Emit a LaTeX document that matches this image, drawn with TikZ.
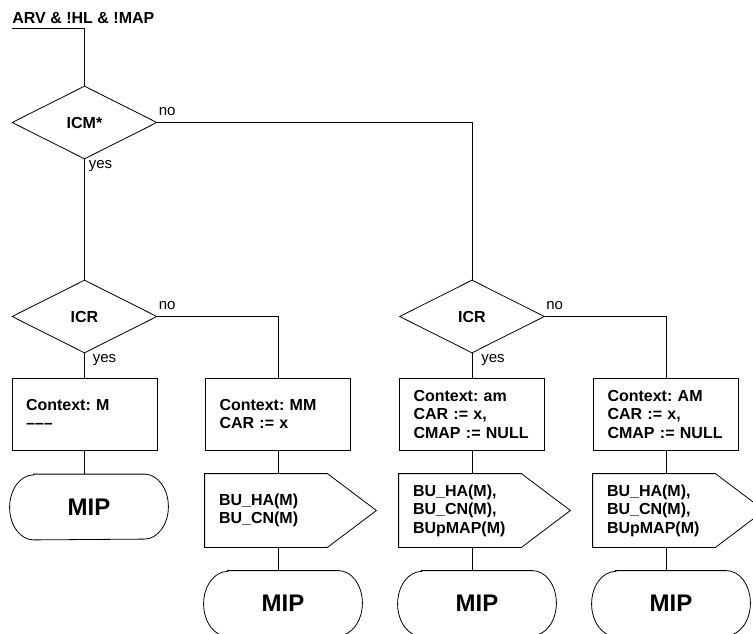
\documentclass[tikz,border=0pt]{standalone}
\usepackage{fontspec}
\setmainfont{Liberation Sans}
\usetikzlibrary{shapes.geometric}
\frenchspacing
\newcommand\drawterm[1]{\draw ([xshift=24pt]#1.north west) -- ([xshift=-24pt]#1.north east) arc[start angle=90,end angle=-90,x radius=24pt,y radius=32.5pt] -- ([xshift=24pt]#1.south west) arc[start angle=270,end angle=90,x radius=24pt,y radius=32.5pt] -- cycle;}
\newcommand\drawsignal[1]{\draw (#1.north west) -- (#1.north east) -- ([xshift=49pt]#1.east) -- (#1.south east) -- (#1.south west) -- cycle;}
\begin{document}
\begin{tikzpicture}[x=1pt,y=-1pt,
  line width=0.8pt,
  every node/.style={font=\fontsize{16}{18.5}\selectfont\bfseries},
  decision/.style={draw, diamond, minimum width=145pt, minimum height=73pt, inner sep=0pt},
  ctxbox/.style={draw, rectangle, minimum height=72pt, text width=117pt, inner xsep=14pt, inner ysep=0pt, align=left},
  outbox/.style={rectangle, minimum height=73pt, text width=94pt, inner xsep=14pt, inner ysep=0pt, align=left},
  termbox/.style={rectangle, minimum width=158pt, minimum height=65pt, inner sep=0pt, font=\fontsize{24}{28}\selectfont\bfseries},
  lbl/.style={font=\fontsize{15}{18}\selectfont, inner sep=0pt, anchor=base west},
]
\useasboundingbox (0,0) rectangle (753,634);
\clip (0,0) rectangle (753,634);

% title
\node[anchor=base west, inner sep=0pt] (title) at (12,23.3) {ARV \& !HL \& !MAP};
\coordinate (start) at (12,28.7);

% decisions
\node[decision] (icm) at (84.5,122.5) {ICM*};
\node[decision] (icr1) at (84.5,316.5) {ICR};
\node[decision] (icr2) at (472,316.5) {ICR};

% context boxes
\node[ctxbox] (ctxM) at (84.5,414) {Context: M\\\textendash\textendash\textendash};
\node[ctxbox] (ctxMM) at (278,414) {Context: MM\\CAR := x};
\node[ctxbox] (ctxam) at (472,414) {Context: am\\CAR := x,\\CMAP := NULL};
\node[ctxbox] (ctxAM) at (666,414) {Context: AM\\CAR := x,\\CMAP := NULL};

% output boxes
\node[outbox] (out1) at (266,510.5) {BU\_HA(M)\\BU\_CN(M)};
\node[outbox] (out2) at (460,510.5) {BU\_HA(M),\\BU\_CN(M),\\BUpMAP(M)};
\node[outbox] (out3) at (654,510.5) {BU\_HA(M),\\BU\_CN(M),\\BUpMAP(M)};
\drawsignal{out1}
\drawsignal{out2}
\drawsignal{out3}

% terminals
\node[termbox] (mip1) at (89,507) {MIP};
\node[termbox] (mip2) at (283,603.5) {MIP};
\node[termbox] (mip3) at (477,603.5) {MIP};
\node[termbox] (mip4) at (671,603.5) {MIP};
\drawterm{mip1}
\drawterm{mip2}
\drawterm{mip3}
\drawterm{mip4}

% labels
\node[lbl] (no1) at ([xshift=1pt,yshift=7pt]icm.east) {no};
\node[lbl] (yes1) at ([xshift=4pt,yshift=-9pt]icm.south) {yes};
\node[lbl] (no2) at ([xshift=1pt,yshift=7pt]icr1.east) {no};
\node[lbl] (yes2) at ([xshift=8pt,yshift=-9pt]icr1.south) {yes};
\node[lbl] (no3) at ([xshift=1pt,yshift=7pt]icr2.east) {no};
\node[lbl] (yes3) at ([xshift=9pt,yshift=-9pt]icr2.south) {yes};

% connectors
\draw (start) -| (icm.north);
\draw (icm.south) -- (icr1.north);
\draw (icm.east) -| (icr2.north);
\draw (icr1.south) -- (ctxM.north);
\draw (icr1.east) -| (ctxMM.north);
\draw (icr2.south) -- (ctxam.north);
\draw (icr2.east) -| (ctxAM.north);

\draw (ctxM.south) -- (ctxM.south |- mip1.north);

\draw (ctxMM.south) -- (ctxMM.south |- out1.north);
\draw (ctxMM.south |- out1.south) -- (ctxMM.south |- mip2.north);
\draw (ctxam.south) -- (ctxam.south |- out2.north);
\draw (ctxam.south |- out2.south) -- (ctxam.south |- mip3.north);
\draw (ctxAM.south) -- (ctxAM.south |- out3.north);
\draw (ctxAM.south |- out3.south) -- (ctxAM.south |- mip4.north);
\end{tikzpicture}
\end{document}
